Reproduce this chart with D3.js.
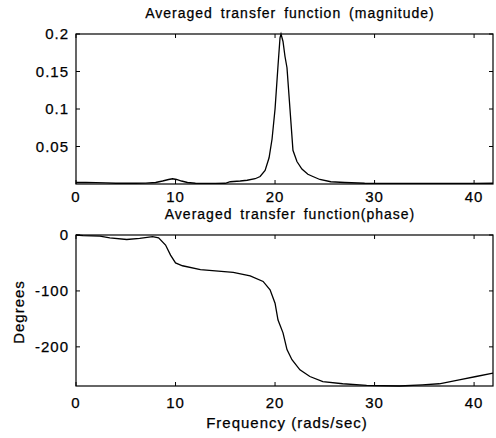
<!DOCTYPE html>
<html><head><meta charset="utf-8">
<script src="https://cdn.jsdelivr.net/npm/d3@7"></script>
<style>
html,body{margin:0;padding:0;background:#fff;}
text{font-family:"Liberation Sans",Arial,sans-serif;fill:#000;stroke:#000;stroke-width:0.25px;}
</style></head>
<body><svg id="c" width="496" height="438"></svg>
<script>
// ---- data ----
const magFreq = [0,1,2,3,4,5,6,7,8,8.7,9.3,9.7,10.1,10.6,11.2,12,13,14,15,15.5,16.5,17.2,18,18.5,19.0,19.4,19.7,20.0,20.3,20.5,20.6,20.8,21.0,21.2,21.5,21.8,22.2,22.7,23.3,23.8,24.5,25.6,27,29,30,35,40,41.9];
const magValue = [0.002,0.002,0.0018,0.0015,0.001,0.001,0.001,0.0012,0.002,0.004,0.006,0.007,0.006,0.004,0.002,0.001,0.0008,0.0008,0.001,0.003,0.004,0.005,0.007,0.010,0.018,0.035,0.06,0.10,0.158,0.195,0.2,0.19,0.17,0.155,0.10,0.045,0.03,0.02,0.013,0.01,0.006,0.003,0.002,0.001,0.0008,0.0008,0.0008,0.001];
const phFreq = [0,0.7,2.4,3.4,5.1,6.4,7.7,8.3,9.0,9.5,10.0,10.7,12.5,15.8,17.5,18.8,19.5,20.0,20.3,20.8,21.2,21.7,22.5,23.5,24.8,26.8,29.2,32.5,34.8,36.5,38.5,40.2,41.9];
const phValue = [0,-1,-2,-5,-8,-6,-3,-5,-18,-36,-50,-55,-62,-67,-73,-83,-98,-122,-152,-175,-205,-223,-241,-253,-262,-266,-269,-270,-268,-266,-259,-253,-247];
const xTicks = [0,10,20,30,40];
const magTicks = [0.05,0.1,0.15,0.2];
const phTicks = [0,-100,-200];
const magTitle = "Averaged transfer function (magnitude)";
const phTitle = "Averaged transfer function(phase)";
const xLabel = "Frequency (rads/sec)";
const yLabel = "Degrees";

const svg = d3.select("#c");
const L = 76, R = 493;
const tk = 4;

function panel(top, bottom, yDomain, yTicks, yFmt, xs, ys, tickBase, title, titleY) {
  const x = d3.scaleLinear().domain([0, 41.9]).range([L, R]);
  const y = d3.scaleLinear().domain(yDomain).range([bottom, top]);
  const g = svg.append("g");
  g.append("rect").attr("x", L).attr("y", top).attr("width", R - L).attr("height", bottom - top)
    .attr("fill", "none").attr("stroke", "#000").attr("stroke-width", 1.2);
  xTicks.forEach(v => {
    const px = x(v);
    g.append("line").attr("x1", px).attr("x2", px).attr("y1", bottom).attr("y2", bottom - tk).attr("stroke", "#000");
    g.append("line").attr("x1", px).attr("x2", px).attr("y1", top).attr("y2", top + tk).attr("stroke", "#000");
    g.append("text").attr("x", px).attr("y", tickBase).attr("text-anchor", "middle")
      .style("font-size", "15px").style("letter-spacing", "1px").text(v);
  });
  yTicks.forEach(v => {
    const py = y(v);
    g.append("line").attr("x1", L).attr("x2", L + tk).attr("y1", py).attr("y2", py).attr("stroke", "#000");
    g.append("line").attr("x1", R).attr("x2", R - tk).attr("y1", py).attr("y2", py).attr("stroke", "#000");
    g.append("text").attr("x", 69).attr("y", py).attr("dy", "0.36em").attr("text-anchor", "end")
      .style("font-size", "15px").style("letter-spacing", "1px").text(yFmt(v));
  });
  const line = d3.line().x((d, i) => x(xs[i])).y((d, i) => y(ys[i]));
  g.append("path").datum(xs).attr("d", line).attr("fill", "none").attr("stroke", "#000").attr("stroke-width", 1.3);
  g.append("text").attr("x", 290).attr("y", titleY).attr("text-anchor", "middle")
    .style("font-size", "14px").style("letter-spacing", "1px").style("word-spacing", "3px").text(title);
  return {x, y};
}

panel(34, 184, [0, 0.2], magTicks, d => String(d), magFreq, magValue, 202, magTitle, 18);
panel(235, 386, [-270, 0], phTicks, d => String(d), phFreq, phValue, 408, phTitle, 219);

svg.append("text").attr("x", 287).attr("y", 428).attr("text-anchor", "middle")
  .style("font-size", "15px").style("letter-spacing", "1px").text(xLabel);
svg.append("text").attr("transform", "translate(24,312) rotate(-90)").attr("text-anchor", "middle")
  .style("font-size", "15px").style("letter-spacing", "1px").text(yLabel);
</script></body></html>
